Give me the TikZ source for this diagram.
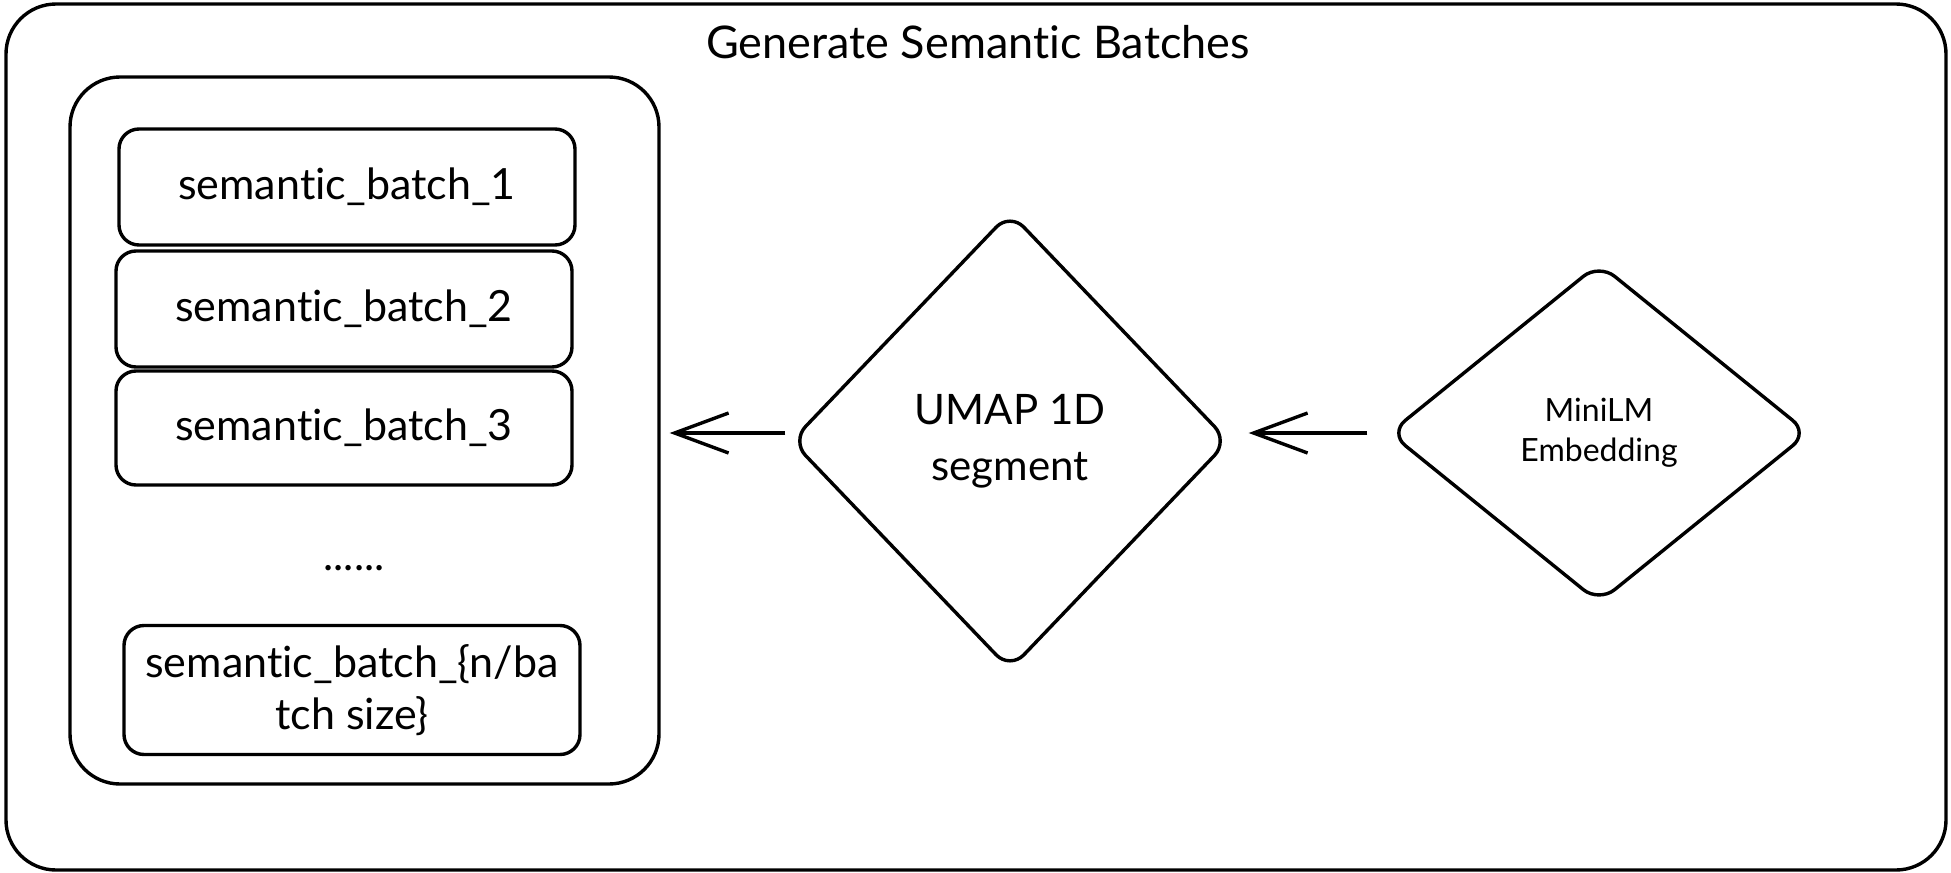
\documentclass[tikz,border=0pt]{standalone}
\usepackage{fontspec}
\setmainfont{Lato}[Ligatures={NoCommon}]
\usetikzlibrary{shapes.geometric,arrows.meta}
\tikzset{
  lbl/.style={font=\fontsize{21.5}{26}\selectfont},
  box/.style={draw, line width=1.7pt, rounded corners=10pt, align=center, inner sep=0pt, lbl},
  container/.style={draw, line width=1.7pt, rounded corners=25pt, inner sep=0pt},
  dia/.style={draw, shape=diamond, line width=1.7pt, rounded corners=10pt, align=center, inner sep=0pt},
  arr/.style={line width=1.7pt, -{Straight Barb[length=27pt, width=20pt, line width=1.7pt]}},
}
\begin{document}
\begin{tikzpicture}[x=0.5pt, y=-0.5pt]
\useasboundingbox (0,0) rectangle (1951,873);
\node[container, minimum width=970pt, minimum height=433pt] (outer) at (976,437) {};
\node[font=\fontsize{22.5}{27}\selectfont] (title) at (978,42) {Generate Semantic Batches};
\node[container, minimum width=294.5pt, minimum height=353.5pt] (inner) at (364.5,430.5) {};
\node[box, minimum width=228pt, minimum height=58pt] (b1) at (347,187) {semantic\_batch\_1};
\node[box, minimum width=228pt, minimum height=58pt] (b2) at (344,309) {semantic\_batch\_2};
\node[box, minimum width=228pt, minimum height=57pt] (b3) at (344,428) {semantic\_batch\_3};
\node[lbl, inner sep=0pt] (dots) at (354,568) {......};
\node[box, minimum width=228pt, minimum height=64.5pt] (bn) at (352,690) {semantic\_batch\_\{n/ba\\tch size\}};
\node[dia, minimum width=219pt, minimum height=229pt, font=\fontsize{21}{28}\selectfont] (umap) at (1010,441) {UMAP 1D\\segment};
\node[dia, minimum width=210pt, minimum height=170pt, font=\fontsize{16}{20}\selectfont] (mini) at (1599,433) {MiniLM\\Embedding};
\draw[arr, shorten <=10pt, shorten >=9pt] (mini.west) -- (umap.east |- mini.west);
\draw[arr, shorten <=2pt, shorten >=4.5pt] (umap.west |- mini.west) -- (inner.east |- mini.west);
\end{tikzpicture}
\end{document}
